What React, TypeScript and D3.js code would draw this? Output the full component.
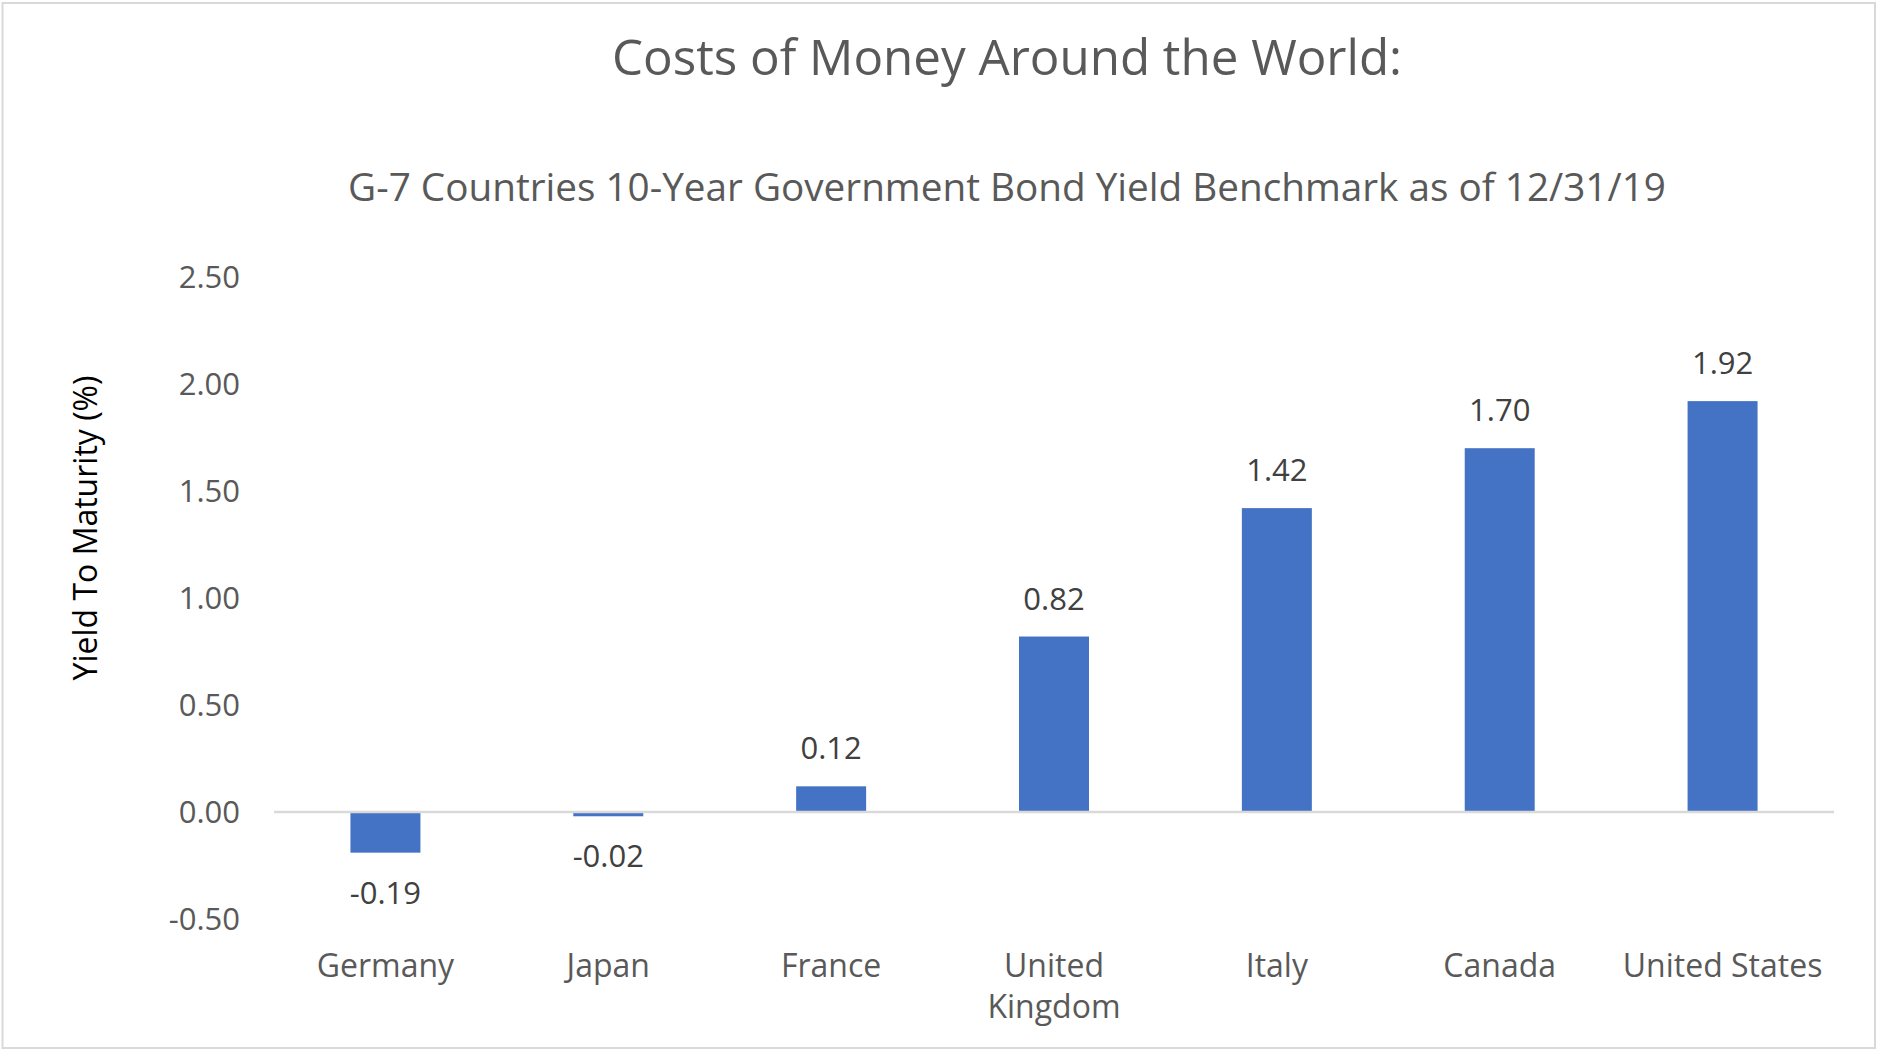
import React from "react";
import * as d3 from "d3";

// G-7 10-year government bond yields, year-end 2019
const countries = ["Germany", "Japan", "France", "United Kingdom", "Italy", "Canada", "United States"];
const yields = [-0.19, -0.02, 0.12, 0.82, 1.42, 1.7, 1.92];
const yTicks = [-0.5, 0, 0.5, 1.0, 1.5, 2.0, 2.5];
// category labels split over lines where the axis wraps them
const categoryLines = [["Germany"], ["Japan"], ["France"], ["United", "Kingdom"], ["Italy"], ["Canada"], ["United States"]];

const W = 1880;
const H = 1054;
const FONT = "'Open Sans', 'Noto Sans', sans-serif";

export default function App() {
  const x = d3
    .scaleBand<string>()
    .domain(countries)
    .range([274, 1834])
    .paddingInner(0.686)
    .paddingOuter(0.343);
  const y = d3.scaleLinear().domain([-0.5, 2.5]).range([919, 277]);
  const fmt = (v: number) => d3.format(".2f")(v).replace("\u2212", "-");

  return (
    <svg
      width={W}
      height={H}
      style={{ position: "absolute", left: 0, top: 0, background: "#fff" }}
      fontFamily={FONT}
    >
      <rect x={2.5} y={3} width={1872.5} height={1045} fill="#fff" stroke="#d9d9d9" strokeWidth={2} />

      <text x={1007} y={75} textAnchor="middle" fontSize={49.3} fill="#595959">
        Costs of Money Around the World:
      </text>
      <text x={1007} y={201} textAnchor="middle" fontSize={38.7} fill="#595959">
        G-7 Countries 10-Year Government Bond Yield Benchmark as of 12/31/19
      </text>

      {/* y axis tick labels */}
      {yTicks.map((t) => (
        <text
          key={t}
          x={240}
          y={y(t)}
          dy="0.36em"
          textAnchor="end"
          fontSize={31}
          fill="#595959"
        >
          {fmt(t)}
        </text>
      ))}

      <text
        transform={`translate(97, ${528}) rotate(-90)`}
        textAnchor="middle"
        fontSize={32}
        fill="#000"
      >
        Yield To Maturity (%)
      </text>

      {/* bars */}
      {countries.map((c, i) => {
        const v = yields[i];
        const top = y(Math.max(0, v));
        const bottom = y(Math.min(0, v));
        return (
          <rect
            key={c}
            x={x(c)}
            y={top}
            width={x.bandwidth()}
            height={Math.max(1.5, bottom - top)}
            fill="#4472c4"
          />
        );
      })}

      {/* zero baseline */}
      <line x1={274} x2={1834} y1={y(0)} y2={y(0)} stroke="#d9d9d9" strokeWidth={2.5} />

      {/* value labels */}
      {countries.map((c, i) => {
        const v = yields[i];
        const cx = (x(c) as number) + x.bandwidth() / 2;
        const ly = v >= 0 ? y(v) - 27 : y(v) + 51;
        return (
          <text key={c} x={cx} y={ly} textAnchor="middle" fontSize={31} fill="#404040">
            {fmt(v)}
          </text>
        );
      })}

      {/* category labels */}
      {countries.map((c, i) => {
        const cx = (x(c) as number) + x.bandwidth() / 2;
        return (
          <text key={c} x={cx} y={977} textAnchor="middle" fontSize={32} fill="#595959">
            {categoryLines[i].map((line, j) => (
              <tspan key={j} x={cx} y={977 + j * 41}>
                {line}
              </tspan>
            ))}
          </text>
        );
      })}
    </svg>
  );
}
